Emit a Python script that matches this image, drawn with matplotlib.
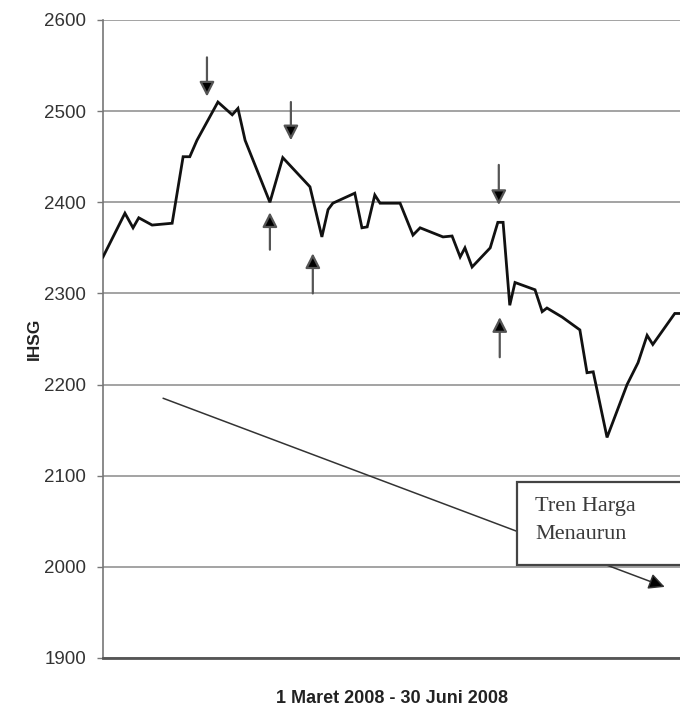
import matplotlib.pyplot as plt
from matplotlib.patches import Rectangle

# IHSG, 1 Maret - 30 Juni 2008 (hari ke-n sejak 1 Maret)
days = [0, 4.6, 6.3, 7.5, 10.3, 14.5, 16.8, 18.2, 19.7, 24.1, 27.1, 28.3, 29.8,
        35.0, 37.7, 43.4, 45.9, 47.2, 48.2, 52.8, 54.3, 55.4, 57.0, 58.1, 62.3,
        65.0, 66.5, 71.3, 73.2, 74.9, 75.9, 77.4, 81.2, 82.8, 83.9, 85.3, 86.4,
        90.6, 92.1, 93.1, 96.3, 100.0, 101.5, 102.8, 105.7, 109.9, 112.2, 114.1,
        115.3, 119.9, 121.0]
ihsg = [2340, 2388, 2372, 2383, 2375, 2377, 2450, 2450, 2468, 2510, 2496, 2503, 2468,
        2400, 2449, 2417, 2362, 2392, 2399, 2410, 2372, 2373, 2408, 2399, 2399,
        2364, 2372, 2362, 2363, 2340, 2350, 2329, 2350, 2378, 2378, 2287, 2312,
        2304, 2280, 2284, 2274, 2260, 2213, 2214, 2142, 2200, 2224, 2254,
        2244, 2278, 2278]

yticks = [1900, 2000, 2100, 2200, 2300, 2400, 2500, 2600]

# penanda puncak (panah ke bawah) dan lembah (panah ke atas): x, ujung, pangkal
down_x = [21.8, 39.4, 83.0]
down_tip = [2516, 2468, 2397]
down_tail = [2559, 2510, 2441]
up_x = [35.0, 44.0, 83.2]
up_tip = [2389, 2344, 2274]
up_tail = [2348, 2300, 2230]

# garis tren
trend_start = (12.6, 2185)
trend_end = (117.8, 1978)

fig = plt.figure(figsize=(6.8, 7.11), dpi=100)
ax = fig.add_axes([103 / 680, 53 / 711, 1 - 103 / 680, 638 / 711])

ax.plot(days, ihsg, color='#111111', lw=2.0, solid_joinstyle='miter', zorder=3)

ax.set_xlim(0, 121)
ax.set_ylim(1900, 2600)
ax.set_yticks(yticks)
ax.set_xticks([])
ax.yaxis.grid(True, color='#8a8a8a', lw=1.1)
ax.set_axisbelow(True)

for s in ['top', 'right']:
    ax.spines[s].set_visible(False)
ax.spines['left'].set_color('#777777')
ax.spines['left'].set_linewidth(1.2)
ax.spines['bottom'].set_color('#555555')
ax.spines['bottom'].set_linewidth(2.0)
ax.tick_params(axis='y', length=4, width=1.0, color='#777777',
               labelsize=13.5, labelcolor='#333333', pad=8)
for lbl in ax.get_yticklabels():
    lbl.set_family('Liberation Sans')

ax.set_ylabel('IHSG', fontsize=12.5, fontweight='bold', family='Liberation Sans',
              color='#222222', labelpad=2)
ax.set_xlabel('1 Maret 2008 - 30 Juni 2008', fontsize=13, fontweight='bold',
              family=['Liberation Sans Narrow', 'Liberation Sans'], color='#222222',
              labelpad=23)

arrow_kw = dict(arrowstyle='-|>,head_length=0.55,head_width=0.28', mutation_scale=16,
                lw=1.6, ec='#555555', fc='black', shrinkA=0, shrinkB=0)
for x, tip, tail in zip(down_x + up_x, down_tip + up_tip, down_tail + up_tail):
    ax.annotate('', xy=(x, tip), xytext=(x, tail), arrowprops=arrow_kw, zorder=4)

ax.annotate('', xy=trend_end, xytext=trend_start,
            arrowprops=dict(arrowstyle='-|>,head_length=0.6,head_width=0.3',
                            mutation_scale=16, lw=1.1,
                            ec='#333333', fc='black', shrinkA=0, shrinkB=0),
            zorder=4, annotation_clip=False)

box = Rectangle((86.8, 2002), 40, 91, fc='white', ec='#444444', lw=1.6,
                zorder=5, clip_on=False)
ax.add_patch(box)
ax.text(90.6, 2066, 'Tren Harga', family='Liberation Serif', fontsize=16,
        color='#3a3a3a', va='center', zorder=6)
ax.text(90.6, 2035, 'Menaurun', family='Liberation Serif', fontsize=16,
        color='#3a3a3a', va='center', zorder=6)

fig.savefig('out.png', dpi=100, facecolor='white')
